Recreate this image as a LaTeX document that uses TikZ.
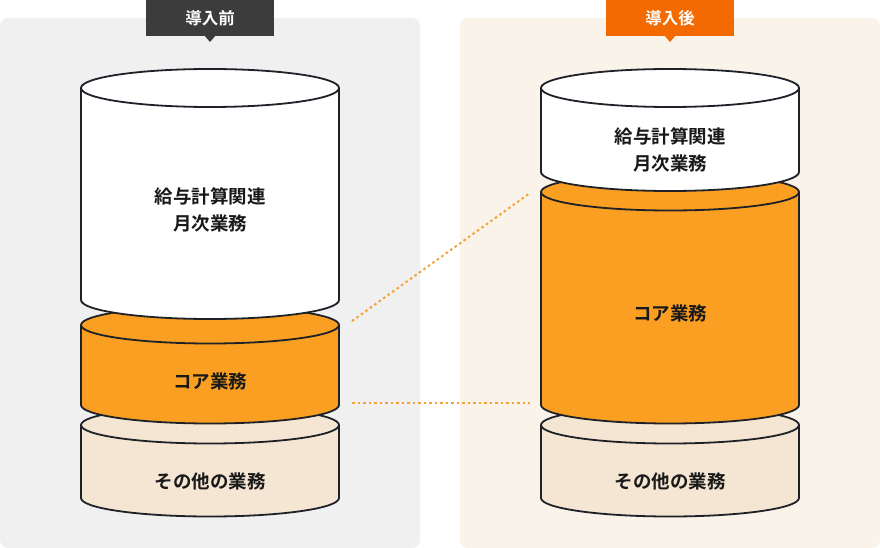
\documentclass[tikz,border=0pt]{standalone}
\usepackage{fontspec}
\setmainfont{Noto Sans CJK JP}[BoldFont={Noto Sans CJK JP Bold}]
\definecolor{panelL}{HTML}{F0F0F0}
\definecolor{panelR}{HTML}{FAF3EA}
\definecolor{tagL}{HTML}{3C3C3C}
\definecolor{tagR}{HTML}{F26A00}
\definecolor{coreOr}{HTML}{FA9F22}
\definecolor{otherBg}{HTML}{F5E6D3}
\definecolor{edge}{HTML}{1E2228}
\definecolor{dotOr}{HTML}{F7A033}
\tikzset{
  cyledge/.style={draw=edge, line width=1.8pt},
  cyltext/.style={font=\bfseries\fontsize{18.5}{27}\selectfont, text=black!90, align=center},
  tagtext/.style={font=\bfseries\fontsize{16.5}{18}\selectfont, text=white},
  dotline/.style={draw=dotOr, line width=2pt, dash pattern=on 2.5pt off 3pt},
}
% cylinder: cx, top-center y, bottom-center y, rx, ry, fill
\newcommand\drawcyl[6]{%
  \fill[#6] (#1-#4,#2) -- (#1-#4,#3) arc[start angle=180, end angle=360, x radius=#4pt, y radius=#5pt]
     -- (#1+#4,#2) arc[start angle=0, end angle=180, x radius=#4pt, y radius=#5pt] -- cycle;
  \draw[cyledge] (#1-#4,#2) -- (#1-#4,#3) arc[start angle=180, end angle=360, x radius=#4pt, y radius=#5pt] -- (#1+#4,#2);
  \draw[cyledge] (#1,#2) ellipse [x radius=#4pt, y radius=#5pt];
}
\begin{document}
\begin{tikzpicture}[x=1pt,y=-1pt]
\useasboundingbox (0,0) rectangle (880,548);
% panels
\fill[panelL, rounded corners=8pt] (0,18) rectangle (420,548);
\fill[panelR, rounded corners=8pt] (460,18) rectangle (880,548);
% tags
\fill[tagL] (146,0) rectangle (274,36);
\fill[tagL] (204,35) -- (216,35) -- (210,42) -- cycle;
\node[tagtext] (tagbefore) at (210,18) {導入前};
\fill[tagR] (606,0) rectangle (734,36);
\fill[tagR] (664,35) -- (676,35) -- (670,42) -- cycle;
\node[tagtext] (tagafter) at (670,18) {導入後};
% left stack
\drawcyl{210}{425}{498}{129}{18.5}{otherBg}
\drawcyl{210}{325}{405}{129}{18.5}{coreOr}
\drawcyl{210}{88}{300}{129}{19}{white}
% right stack
\drawcyl{670}{425}{498}{129}{18.5}{otherBg}
\drawcyl{670}{192}{405}{129}{18.5}{coreOr}
\drawcyl{670}{88}{172}{129}{19}{white}
% labels
\node[cyltext] (lpay) at (210,210) {給与計算関連\\月次業務};
\node[cyltext] (lcore) at (210,381) {コア業務};
\node[cyltext] (lother) at (210,481) {その他の業務};
\node[cyltext] (rpay) at (670,150) {給与計算関連\\月次業務};
\node[cyltext] (rcore) at (670,313) {コア業務};
\node[cyltext] (rother) at (670,481) {その他の業務};
% dotted connectors
\coordinate (a1) at (352,321);
\coordinate (b1) at (530,193);
\coordinate (a2) at (352,403);
\coordinate (b2) at (530,403);
\draw[dotline] (a1) -- (b1);
\draw[dotline] (a2) -- (b2);
\end{tikzpicture}
\end{document}
